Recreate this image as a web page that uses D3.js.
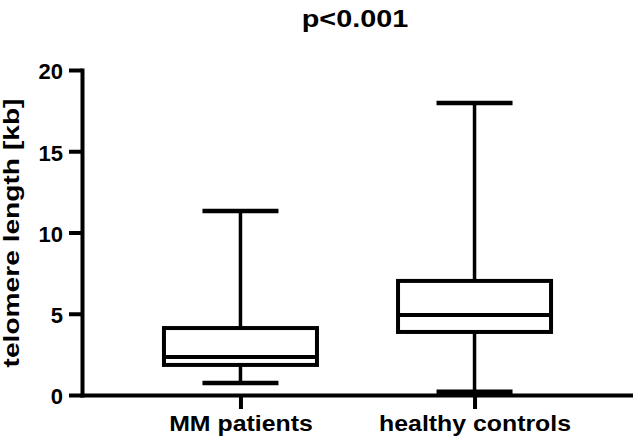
<!DOCTYPE html>
<html>

<head>
  <meta charset="utf-8">
  <title>telomere length box plot</title>
  <script src="https://d3js.org/d3.v7.min.js"></script>
  <style>
    body { margin: 0; background: #fff; }
    text { font-family: "Liberation Sans", Arial, sans-serif; font-weight: bold; fill: #000; }
  </style>
</head>

<body>
  <script>
    // data (kb)
    var categories = ["MM patients", "healthy controls"];
    var whiskerMin = [0.74, 0.2];
    var q1 = [1.85, 3.88];
    var median = [2.34, 4.92];
    var q3 = [4.12, 7.02];
    var whiskerMax = [11.32, 17.97];
    var yTicks = [0, 5, 10, 15, 20];
    var title = "p<0.001";
    var yTitle = "telomere length [kb]";

    var width = 633;
    var height = 446;
    var padLeft = 82, padRight = 633, padTop = 70, padBottom = 395;
    var boxWidth = 153, capWidth = 76;

    var rows = categories.map((c, i) => ({
      name: c, min: whiskerMin[i], q1: q1[i], med: median[i], q3: q3[i], max: whiskerMax[i]
    }));

    var svg = d3.select("body").append("svg").attr("width", width).attr("height", height);

    var y = d3.scaleLinear().domain([0, 20]).range([padBottom, padTop]);
    var x = d3.scalePoint().domain(categories).range([padLeft, padRight]).padding(0.677);

    // title
    svg.append("text")
      .attr("transform", "translate(355,27) scale(1.2,1)")
      .attr("text-anchor", "middle")
      .style("font-size", "24px")
      .text(title);

    // y title
    svg.append("text")
      .attr("transform", "translate(19,233) rotate(-90) scale(1.28,1)")
      .attr("text-anchor", "middle")
      .style("font-size", "22px")
      .text(yTitle);

    // boxes
    var g = svg.append("g")
      .selectAll("g")
      .data(rows)
      .enter()
      .append("g")
      .attr("transform", d => "translate(" + x(d.name) + ",0)");

    g.append("line")
      .attr("y1", d => y(d.min)).attr("y2", d => y(d.q1))
      .attr("stroke", "#000").attr("stroke-width", 3.5);
    g.append("line")
      .attr("y1", d => y(d.q3)).attr("y2", d => y(d.max))
      .attr("stroke", "#000").attr("stroke-width", 3.5);
    g.append("line")
      .attr("x1", -capWidth / 2).attr("x2", capWidth / 2)
      .attr("y1", d => y(d.max)).attr("y2", d => y(d.max))
      .attr("stroke", "#000").attr("stroke-width", 4.5);
    g.append("line")
      .attr("x1", -capWidth / 2).attr("x2", capWidth / 2)
      .attr("y1", d => y(d.min)).attr("y2", d => y(d.min))
      .attr("stroke", "#000").attr("stroke-width", 4.5);
    g.append("rect")
      .attr("x", -boxWidth / 2).attr("width", boxWidth)
      .attr("y", d => y(d.q3)).attr("height", d => y(d.q1) - y(d.q3))
      .attr("fill", "#fff").attr("stroke", "#000").attr("stroke-width", 4);
    g.append("line")
      .attr("x1", -boxWidth / 2).attr("x2", boxWidth / 2)
      .attr("y1", d => y(d.med)).attr("y2", d => y(d.med))
      .attr("stroke", "#000").attr("stroke-width", 4);

    // axes
    var yAxis = svg.append("g")
      .attr("transform", "translate(" + padLeft + ",0)")
      .call(d3.axisLeft(y).tickValues(yTicks).tickSize(13).tickSizeOuter(0).tickPadding(6));

    var xAxis = svg.append("g")
      .attr("transform", "translate(0," + padBottom + ")")
      .call(d3.axisBottom(x).tickSize(14).tickSizeOuter(0).tickPadding(6));

    svg.selectAll(".domain, .tick line")
      .attr("stroke", "#000").attr("stroke-width", 4);
    svg.selectAll(".domain").attr("stroke-linecap", "square");
    svg.selectAll(".tick text").style("font-size", "22px").attr("fill", "#000");
    yAxis.selectAll(".tick text").attr("dy", "0.4em");
    xAxis.selectAll(".tick text").attr("transform", "scale(1.13,1)");
  </script>

</body>

</html>
